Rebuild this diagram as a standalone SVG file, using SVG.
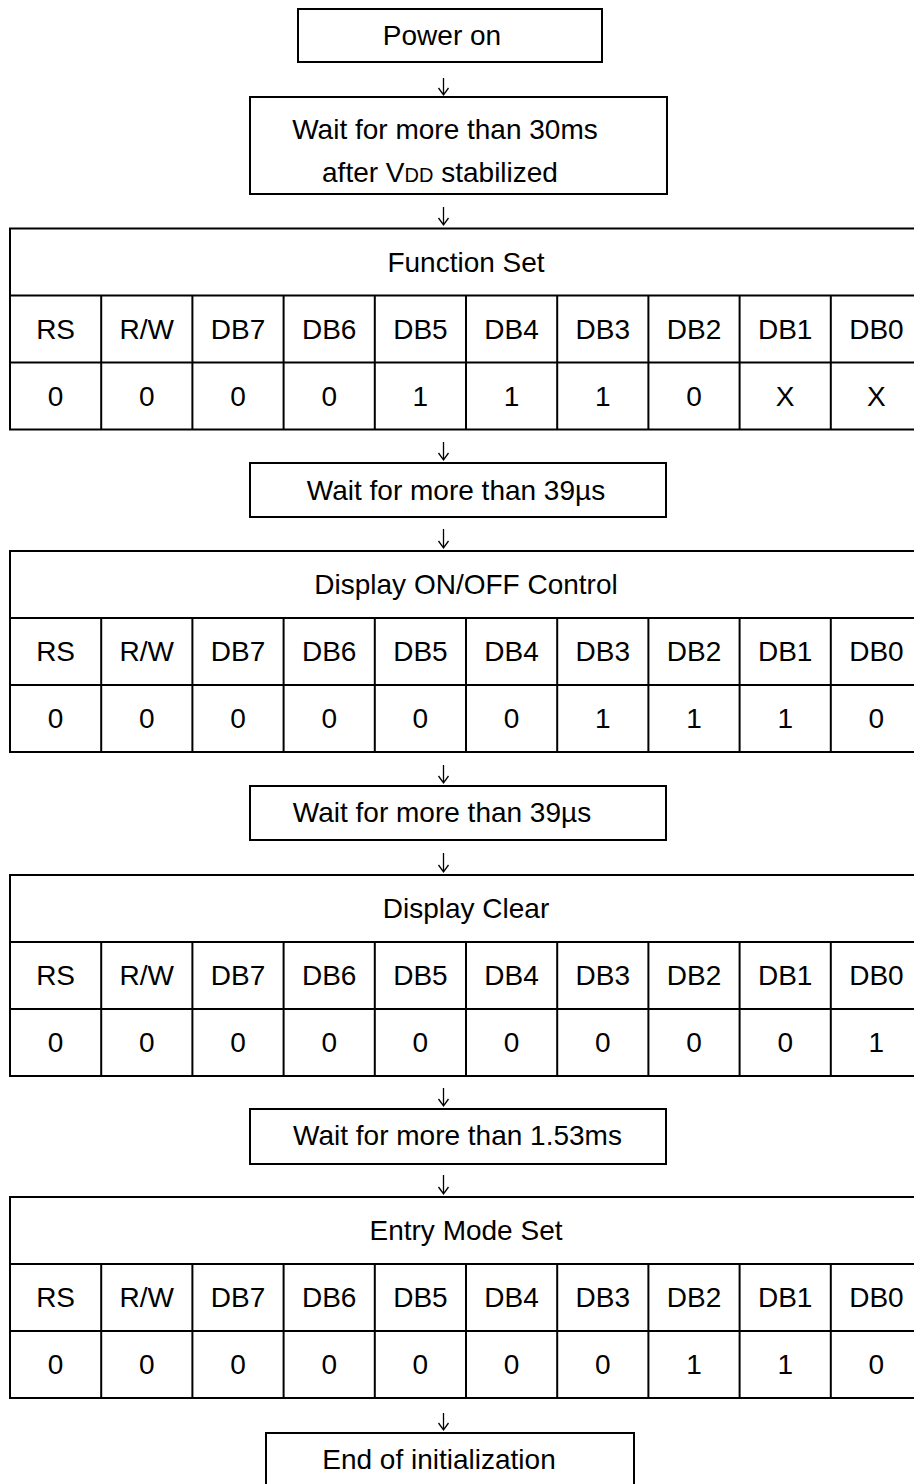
<svg xmlns="http://www.w3.org/2000/svg" width="914" height="1484" viewBox="0 0 914 1484">
<style>
  text { font-family: "Liberation Sans", Arial, sans-serif; font-size: 28px; fill: #000; }
  .m { text-anchor: middle; }
  .box { fill: #fff; stroke: #000; stroke-width: 2; }
  .grid { stroke: #000; stroke-width: 2; fill: none; }
  .arr { stroke: #000; stroke-width: 1.3; fill: none; }
  .sub { font-size: 20px; }
</style>
<rect width="914" height="1484" fill="#fff"/>

<g id="connectors">
  <path class="arr" d="M443.5,78 V95 M438.5,88 L443.5,95 L448.5,88"/>
  <path class="arr" d="M443.5,207 V225 M438.5,218 L443.5,225 L448.5,218"/>
  <path class="arr" d="M443.5,442 V460 M438.5,453 L443.5,460 L448.5,453"/>
  <path class="arr" d="M443.5,529 V548 M438.5,541 L443.5,548 L448.5,541"/>
  <path class="arr" d="M443.5,765 V783 M438.5,776 L443.5,783 L448.5,776"/>
  <path class="arr" d="M443.5,853 V872 M438.5,865 L443.5,872 L448.5,865"/>
  <path class="arr" d="M443.5,1088 V1106 M438.5,1099 L443.5,1106 L448.5,1099"/>
  <path class="arr" d="M443.5,1175 V1194 M438.5,1187 L443.5,1194 L448.5,1187"/>
  <path class="arr" d="M443.5,1413 V1430 M438.5,1423 L443.5,1430 L448.5,1423"/>
</g>

<g id="power-on">
  <rect class="box" x="298" y="9" width="304" height="53"/>
  <text class="m" x="442" y="45">Power on</text>
</g>

<g id="wait-30ms">
  <rect class="box" x="250" y="97" width="417" height="97"/>
  <text class="m" x="445" y="139">Wait for more than 30ms</text>
  <text class="m" x="440" y="182">after V<tspan class="sub">DD</tspan> stabilized</text>
</g>

<g id="function-set">
  <rect class="grid" x="10" y="228.5" width="912" height="201"/>
  <path class="grid" d="M10,295.5 H922 M10,362.5 H922 M101.2,295.5 V429.5 M192.4,295.5 V429.5 M283.6,295.5 V429.5 M374.8,295.5 V429.5 M466,295.5 V429.5 M557.2,295.5 V429.5 M648.4,295.5 V429.5 M739.6,295.5 V429.5 M830.8,295.5 V429.5"/>
  <text class="m" x="466" y="271.5">Function Set</text>
  <text class="m" x="55.6" y="338.5">RS</text><text class="m" x="146.8" y="338.5">R/W</text><text class="m" x="238" y="338.5">DB7</text><text class="m" x="329.2" y="338.5">DB6</text><text class="m" x="420.4" y="338.5">DB5</text><text class="m" x="511.6" y="338.5">DB4</text><text class="m" x="602.8" y="338.5">DB3</text><text class="m" x="694" y="338.5">DB2</text><text class="m" x="785.2" y="338.5">DB1</text><text class="m" x="876.4" y="338.5">DB0</text>
  <text class="m" x="55.6" y="405.5">0</text><text class="m" x="146.8" y="405.5">0</text><text class="m" x="238" y="405.5">0</text><text class="m" x="329.2" y="405.5">0</text><text class="m" x="420.4" y="405.5">1</text><text class="m" x="511.6" y="405.5">1</text><text class="m" x="602.8" y="405.5">1</text><text class="m" x="694" y="405.5">0</text><text class="m" x="785.2" y="405.5">X</text><text class="m" x="876.4" y="405.5">X</text>
</g>

<g id="wait-39us-1">
  <rect class="box" x="250" y="463" width="416" height="54"/>
  <text class="m" x="456" y="500">Wait for more than 39µs</text>
</g>

<g id="display-onoff">
  <rect class="grid" x="10" y="551" width="912" height="201"/>
  <path class="grid" d="M10,618 H922 M10,685 H922 M101.2,618 V752 M192.4,618 V752 M283.6,618 V752 M374.8,618 V752 M466,618 V752 M557.2,618 V752 M648.4,618 V752 M739.6,618 V752 M830.8,618 V752"/>
  <text class="m" x="466" y="594">Display ON/OFF Control</text>
  <text class="m" x="55.6" y="661">RS</text><text class="m" x="146.8" y="661">R/W</text><text class="m" x="238" y="661">DB7</text><text class="m" x="329.2" y="661">DB6</text><text class="m" x="420.4" y="661">DB5</text><text class="m" x="511.6" y="661">DB4</text><text class="m" x="602.8" y="661">DB3</text><text class="m" x="694" y="661">DB2</text><text class="m" x="785.2" y="661">DB1</text><text class="m" x="876.4" y="661">DB0</text>
  <text class="m" x="55.6" y="728">0</text><text class="m" x="146.8" y="728">0</text><text class="m" x="238" y="728">0</text><text class="m" x="329.2" y="728">0</text><text class="m" x="420.4" y="728">0</text><text class="m" x="511.6" y="728">0</text><text class="m" x="602.8" y="728">1</text><text class="m" x="694" y="728">1</text><text class="m" x="785.2" y="728">1</text><text class="m" x="876.4" y="728">0</text>
</g>

<g id="wait-39us-2">
  <rect class="box" x="250" y="786" width="416" height="54"/>
  <text class="m" x="442" y="822">Wait for more than 39µs</text>
</g>

<g id="display-clear">
  <rect class="grid" x="10" y="875" width="912" height="201"/>
  <path class="grid" d="M10,942 H922 M10,1009 H922 M101.2,942 V1076 M192.4,942 V1076 M283.6,942 V1076 M374.8,942 V1076 M466,942 V1076 M557.2,942 V1076 M648.4,942 V1076 M739.6,942 V1076 M830.8,942 V1076"/>
  <text class="m" x="466" y="918">Display Clear</text>
  <text class="m" x="55.6" y="985">RS</text><text class="m" x="146.8" y="985">R/W</text><text class="m" x="238" y="985">DB7</text><text class="m" x="329.2" y="985">DB6</text><text class="m" x="420.4" y="985">DB5</text><text class="m" x="511.6" y="985">DB4</text><text class="m" x="602.8" y="985">DB3</text><text class="m" x="694" y="985">DB2</text><text class="m" x="785.2" y="985">DB1</text><text class="m" x="876.4" y="985">DB0</text>
  <text class="m" x="55.6" y="1052">0</text><text class="m" x="146.8" y="1052">0</text><text class="m" x="238" y="1052">0</text><text class="m" x="329.2" y="1052">0</text><text class="m" x="420.4" y="1052">0</text><text class="m" x="511.6" y="1052">0</text><text class="m" x="602.8" y="1052">0</text><text class="m" x="694" y="1052">0</text><text class="m" x="785.2" y="1052">0</text><text class="m" x="876.4" y="1052">1</text>
</g>

<g id="wait-153ms">
  <rect class="box" x="250" y="1109" width="416" height="55"/>
  <text class="m" x="457.5" y="1145">Wait for more than 1.53ms</text>
</g>

<g id="entry-mode-set">
  <rect class="grid" x="10" y="1197" width="912" height="201"/>
  <path class="grid" d="M10,1264 H922 M10,1331 H922 M101.2,1264 V1398 M192.4,1264 V1398 M283.6,1264 V1398 M374.8,1264 V1398 M466,1264 V1398 M557.2,1264 V1398 M648.4,1264 V1398 M739.6,1264 V1398 M830.8,1264 V1398"/>
  <text class="m" x="466" y="1240">Entry Mode Set</text>
  <text class="m" x="55.6" y="1307">RS</text><text class="m" x="146.8" y="1307">R/W</text><text class="m" x="238" y="1307">DB7</text><text class="m" x="329.2" y="1307">DB6</text><text class="m" x="420.4" y="1307">DB5</text><text class="m" x="511.6" y="1307">DB4</text><text class="m" x="602.8" y="1307">DB3</text><text class="m" x="694" y="1307">DB2</text><text class="m" x="785.2" y="1307">DB1</text><text class="m" x="876.4" y="1307">DB0</text>
  <text class="m" x="55.6" y="1374">0</text><text class="m" x="146.8" y="1374">0</text><text class="m" x="238" y="1374">0</text><text class="m" x="329.2" y="1374">0</text><text class="m" x="420.4" y="1374">0</text><text class="m" x="511.6" y="1374">0</text><text class="m" x="602.8" y="1374">0</text><text class="m" x="694" y="1374">1</text><text class="m" x="785.2" y="1374">1</text><text class="m" x="876.4" y="1374">0</text>
</g>

<g id="end-of-init">
  <rect class="box" x="266" y="1433" width="368" height="60"/>
  <text class="m" x="439" y="1469">End of initialization</text>
</g>
</svg>
